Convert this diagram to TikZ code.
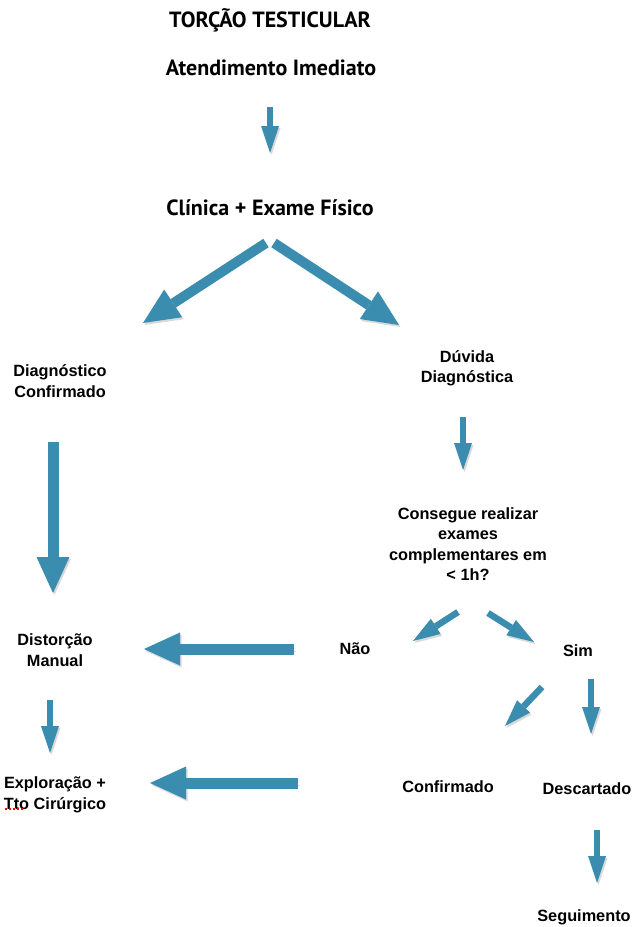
\documentclass[tikz,border=0pt]{standalone}
\usepackage{fontspec}
\setmainfont{Liberation Sans}
\newfontfamily\titulofont{PT Sans}
\usetikzlibrary{arrows.meta}

\definecolor{azul}{RGB}{58,141,174}

\tikzset{
  texto/.style={font=\bfseries\fontsize{16.3}{20.5}\selectfont, align=center, inner sep=0pt},
  titulo/.style={font=\titulofont\bfseries\fontsize{22}{24}\selectfont, inner sep=0pt},
  sombra/.style={preaction={draw=black!60, opacity=0.25, transform canvas={shift={(1.5pt,-2pt)}}}},
  seta/.style={draw=azul, line width=6.5pt, -{Triangle[width=18pt,length=27pt,line width=0pt]}, sombra},
  setagrande/.style={draw=azul, line width=11pt, -{Triangle[width=33pt,length=36pt,line width=0pt]}, sombra}
}

\begin{document}
\begin{tikzpicture}[x=1pt,y=-1pt]
    \useasboundingbox (0,0) rectangle (638,927);

    % Textos
    \node[titulo] (tit) at (270,20) {TORÇÃO TESTICULAR};
    \node[titulo] (aten) at (271,68) {Atendimento Imediato};
    \node[titulo] (clin) at (270,208) {Clínica + Exame Físico};
    \node[texto] (diag) at (60,381) {Diagnóstico\\Confirmado};
    \node[texto] (duv) at (467,368) {Dúvida\\Diagnóstica};
    \node[texto] (cons) at (468,544) {Consegue realizar\\exames\\complementares em\\< 1h?};
    \node[texto] (nao) at (355,649) {Não};
    \node[texto] (sim) at (578,651) {Sim};
    \node[texto] (dist) at (55,650) {Distorção\\Manual};
    \node[texto] (expl) at (55,795) {Exploração +\\Tto Cirúrgico};
    \node[texto] (conf) at (448,787) {Confirmado};
    \node[texto] (desc) at (587,789) {Descartado};
    \node[texto] (seg) at (584,917) {Seguimento};

    % marca do corretor
    \draw[red, line width=2pt, dash pattern=on 2pt off 2pt] ([xshift=1pt,yshift=4.5pt]expl.south west) -- ([xshift=21pt,yshift=4.5pt]expl.south west);

    % Pontas das setas
    \coordinate (a1) at (270,107);  \coordinate (b1) at (270,153);
    \coordinate (a2) at (266,243);  \coordinate (b2) at (143,323);
    \coordinate (a3) at (274,243);  \coordinate (b3) at (399,325);
    \coordinate (a4) at (53,442);   \coordinate (b4) at (53,593);
    \coordinate (a5) at (463,417);  \coordinate (b5) at (463,470);
    \coordinate (a6) at (458,612);  \coordinate (b6) at (413,641);
    \coordinate (a7) at (488,613);  \coordinate (b7) at (534,642);
    \coordinate (a8) at (294,649);  \coordinate (b8) at (144,649);
    \coordinate (a9) at (50,700);   \coordinate (b9) at (50,753);
    \coordinate (a10) at (298,783); \coordinate (b10) at (150,783);
    \coordinate (a11) at (542,687); \coordinate (b11) at (505,726);
    \coordinate (a12) at (591,679); \coordinate (b12) at (591,734);
    \coordinate (a13) at (597,830); \coordinate (b13) at (597,883);

    % Setas
    \draw[seta] (a1) -- (b1);
    \draw[setagrande, line width=10pt] (a2) -- (b2);
    \draw[setagrande, line width=10pt] (a3) -- (b3);
    \draw[setagrande] (a4) -- (b4);
    \draw[seta] (a5) -- (b5);
    \draw[seta] (a6) -- (b6);
    \draw[seta] (a7) -- (b7);
    \draw[setagrande] (a8) -- (b8);
    \draw[seta] (a9) -- (b9);
    \draw[setagrande] (a10) -- (b10);
    \draw[seta] (a11) -- (b11);
    \draw[seta] (a12) -- (b12);
    \draw[seta] (a13) -- (b13);
\end{tikzpicture}
\end{document}
